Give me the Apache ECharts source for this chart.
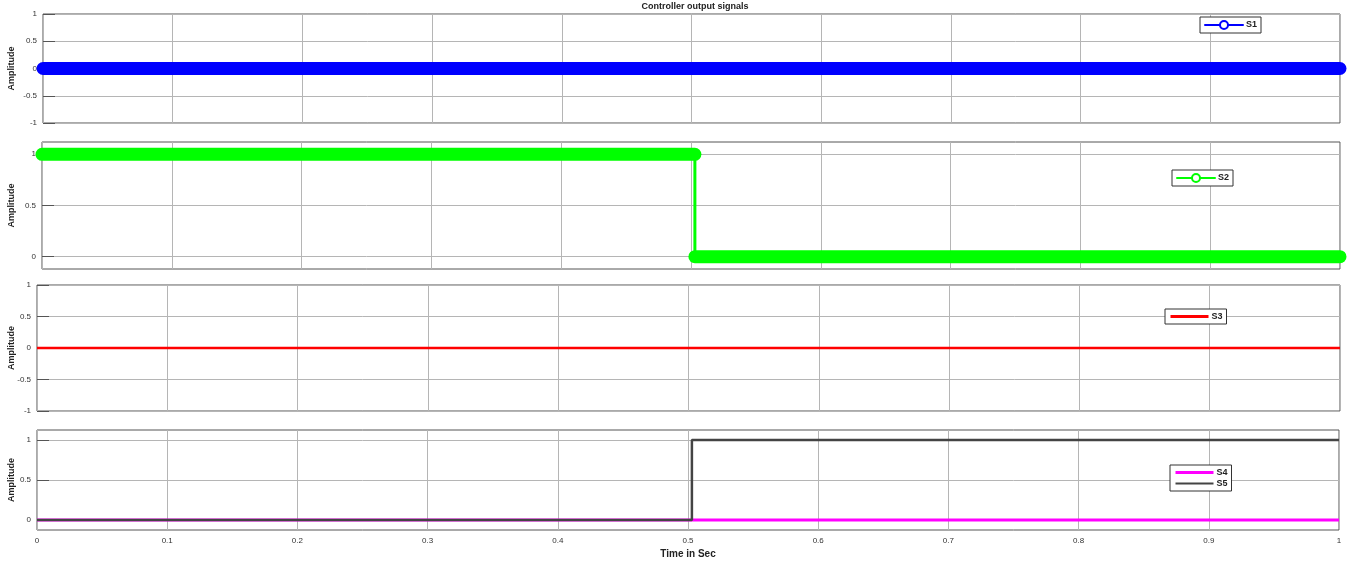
<!DOCTYPE html>
<html style="height: 100%">
  <head>
    <meta charset="utf-8" />
  </head>
  <body style="height: 100%; margin: 0; background: #fff">
    <div id="container" style="width: 1348px; height: 561px"></div>

    <script
      type="text/javascript"
      src="https://fastly.jsdelivr.net/npm/echarts@6.0.0/dist/echarts.min.js"
    ></script>

    <script type="text/javascript">
      // time samples (s) and signal values
      var tEnds = [0, 1];
      var s1 = [0, 0];
      var s3 = [0, 0];
      var tStep = [0, 0.503, 0.503, 1];
      var s2 = [1, 1, 0, 0];
      var s4 = [0, 0, 0, 0];
      var s5 = [0, 0, 1, 1];
      var xTicks = [0, 0.1, 0.2, 0.3, 0.4, 0.5, 0.6, 0.7, 0.8, 0.9, 1];
      var yTicksFull = [-1, -0.5, 0, 0.5, 1];
      var yTicksUnit = [0, 0.5, 1];

      function pairs(t, v) {
        return t.map(function (x, i) {
          return [x, v[i]];
        });
      }

      // split a signal into runs of constant value (for the thick marker bands)
      function bands(t, v) {
        var out = [];
        var cur = [[t[0], v[0]]];
        for (var i = 1; i < t.length; i++) {
          if (v[i] !== v[i - 1]) {
            out.push(cur);
            cur = [];
          }
          cur.push([t[i], v[i]]);
        }
        out.push(cur);
        return out;
      }

      var dom = document.getElementById("container");
      var myChart = echarts.init(dom, null, { renderer: "canvas" });

      var font = "Liberation Sans";
      var grids = [
        { left: 43, top: 14, right: 8, height: 109 },
        { left: 42, top: 142, right: 8, height: 127 },
        { left: 37, top: 285, right: 8, height: 126 },
        { left: 37, top: 430, right: 9, height: 100 },
      ];
      var yRanges = [
        [-1, 1, yTicksFull],
        [-0.12, 1.12, yTicksUnit],
        [-1, 1, yTicksFull],
        [-0.125, 1.125, yTicksUnit],
      ];
      var nameGaps = [27, 26, 21, 21];

      var xAxes = grids.map(function (g, i) {
        return {
          gridIndex: i,
          type: "value",
          min: 0,
          max: 1,
          axisLine: { show: false },
          axisTick: { show: false, customValues: xTicks },
          axisLabel: {
            show: i === 3,
            customValues: xTicks,
            fontSize: 8,
            fontFamily: font,
            color: "#333",
            margin: 7,
          },
          splitLine: { show: true, lineStyle: { color: "#b5b5b5", width: 1 } },
          name: i === 3 ? "Time in Sec" : "",
          nameLocation: "middle",
          nameGap: 19,
          nameMoveOverlap: false,
          nameTextStyle: {
            fontSize: 10,
            fontWeight: "bold",
            fontFamily: font,
            color: "#222",
          },
        };
      });

      var yAxes = grids.map(function (g, i) {
        return {
          gridIndex: i,
          type: "value",
          min: yRanges[i][0],
          max: yRanges[i][1],
          axisLine: { show: false },
          axisTick: {
            show: true,
            inside: true,
            length: 12,
            customValues: yRanges[i][2],
            lineStyle: { color: "#555" },
          },
          axisLabel: {
            customValues: yRanges[i][2],
            fontSize: 8,
            fontFamily: font,
            color: "#333",
            margin: 6,
          },
          splitLine: { show: true, lineStyle: { color: "#b5b5b5", width: 1 } },
          name: "Amplitude",
          nameLocation: "middle",
          nameGap: nameGaps[i],
          nameMoveOverlap: false,
          nameTextStyle: {
            fontSize: 9,
            fontWeight: "bold",
            fontFamily: font,
            color: "#222",
          },
        };
      });

      var series = [];
      series.push({
        name: "S1",
        type: "line",
        xAxisIndex: 0,
        yAxisIndex: 0,
        data: pairs(tEnds, s1),
        symbol: "circle",
        showSymbol: false,
        clip: false,
        color: "#0000ff",
        lineStyle: { width: 13, cap: "round" },
      });
      bands(tStep, s2).forEach(function (seg) {
        series.push({
          name: "S2",
          type: "line",
          xAxisIndex: 1,
          yAxisIndex: 1,
          data: seg,
          symbol: "circle",
          showSymbol: false,
          clip: false,
          color: "#00ff00",
          lineStyle: { width: 13, cap: "round" },
        });
      });
      series.push({
        name: "S2",
        type: "line",
        xAxisIndex: 1,
        yAxisIndex: 1,
        data: pairs(tStep, s2),
        symbol: "circle",
        showSymbol: false,
        color: "#00ff00",
        lineStyle: { width: 3 },
      });
      series.push({
        name: "S3",
        type: "line",
        xAxisIndex: 2,
        yAxisIndex: 2,
        data: pairs(tEnds, s3),
        symbol: "circle",
        showSymbol: false,
        color: "#ff0000",
        lineStyle: { width: 2.5 },
      });
      series.push({
        name: "S4",
        type: "line",
        xAxisIndex: 3,
        yAxisIndex: 3,
        data: pairs(tStep, s4),
        symbol: "circle",
        showSymbol: false,
        color: "#ff00ff",
        lineStyle: { width: 3 },
      });
      series.push({
        name: "S5",
        type: "line",
        xAxisIndex: 3,
        yAxisIndex: 3,
        data: pairs(tStep, s5),
        symbol: "circle",
        showSymbol: false,
        color: "#444444",
        lineStyle: { width: 2.5 },
      });

      function legendBox(left, top, items, orient) {
        return {
          left: left,
          top: top,
          orient: orient || "horizontal",
          data: items,
          itemWidth: 38,
          itemHeight: 10,
          itemGap: 2,
          padding: [3, 4, 3, 4],
          borderColor: "#333",
          borderWidth: 1,
          backgroundColor: "#fff",
          selectedMode: false,
          textStyle: {
            fontSize: 9,
            fontWeight: "bold",
            fontFamily: font,
            color: "#222",
            padding: [0, 0, 0, -2],
          },
        };
      }
      var hideDot = { opacity: 0 };

      var option = {
        animation: false,
        backgroundColor: "#fff",
        title: {
          text: "Controller output signals",
          left: 690,
          textAlign: "center",
          top: -3,
          textStyle: {
            fontSize: 9,
            fontWeight: "bold",
            fontFamily: font,
            color: "#222",
          },
        },
        grid: grids.map(function (g) {
          return Object.assign({}, g, {
            show: true,
            borderColor: "#555",
            borderWidth: 1,
            containLabel: false,
            outerBoundsMode: "none",
          });
        }),
        xAxis: xAxes,
        yAxis: yAxes,
        legend: [
          legendBox(1200, 17, [
            {
              name: "S1",
              itemStyle: { color: "#fff", borderColor: "#0000ff", borderWidth: 2 },
              lineStyle: { width: 2 },
            },
          ]),
          legendBox(1172, 170, [
            {
              name: "S2",
              itemStyle: { color: "#fff", borderColor: "#00ff00", borderWidth: 2 },
              lineStyle: { width: 2 },
            },
          ]),
          legendBox(1165, 309, [
            { name: "S3", itemStyle: hideDot, lineStyle: { width: 3 } },
          ]),
          legendBox(
            1170,
            465,
            [
              { name: "S4", itemStyle: hideDot, lineStyle: { width: 3 } },
              { name: "S5", itemStyle: hideDot, lineStyle: { width: 2 } },
            ],
            "vertical"
          ),
        ],
        series: series,
      };

      myChart.setOption(option);
      window.addEventListener("resize", myChart.resize);
    </script>
  </body>
</html>
